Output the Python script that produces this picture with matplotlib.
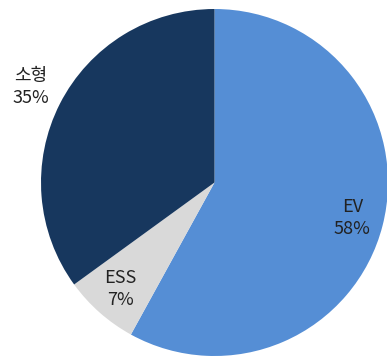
import numpy as np
import matplotlib.pyplot as plt

plt.rcParams['font.family'] = ['Noto Sans CJK KR', 'DejaVu Sans']

labels = ['EV', 'ESS', '소형']
shares = [58, 7, 35]
colors = ['#558ED5', '#D9D9D9', '#17375E']

fig = plt.figure(figsize=(3.87, 3.59), dpi=100)
ax = fig.add_axes([41 / 387, 3 / 359, 347 / 387, 347 / 359])

wedges, _ = ax.pie(shares, colors=colors, startangle=90, counterclock=False,
                   radius=1.0, wedgeprops=dict(linewidth=0))
ax.set_xlim(-1, 1)
ax.set_ylim(-1, 1)
ax.set_aspect('equal')

for w, name, v in zip(wedges, labels, shares):
    mid = np.deg2rad((w.theta1 + w.theta2) / 2)
    if name == '소형':
        x, y = -1.06, 0.55
    else:
        x, y = 0.82 * np.cos(mid), 0.82 * np.sin(mid)
    ax.text(x, y, f'{name}\n{v}%', ha='center', va='center',
            fontsize=13, fontweight='light', color='#222222', linespacing=1.3)

fig.savefig('out.png', dpi=100)
